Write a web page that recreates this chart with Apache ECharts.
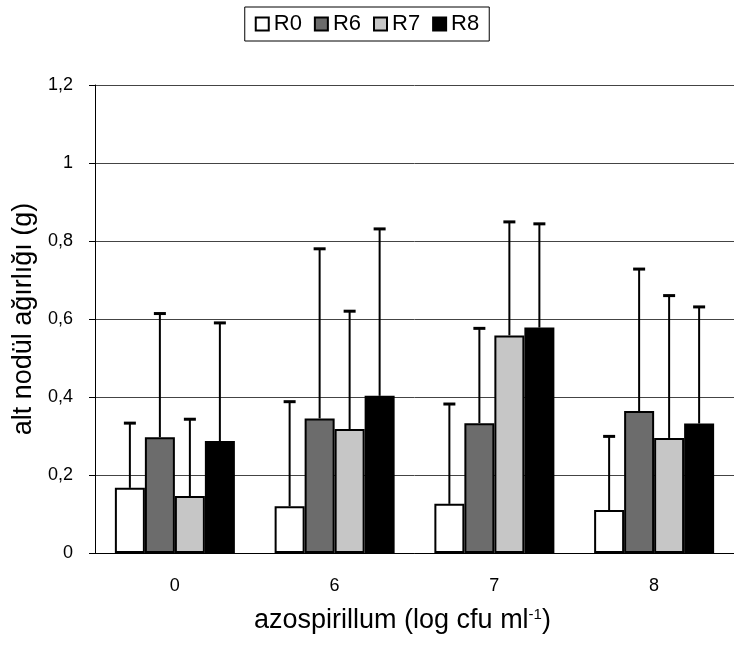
<!DOCTYPE html>
<html>
<head>
<meta charset="utf-8">
<script src="https://cdn.jsdelivr.net/npm/echarts@6/dist/echarts.min.js"></script>
<style>html,body{margin:0;padding:0;background:#fff}#c{width:734px;height:649px}</style>
</head>
<body>
<div id="c"></div>
<script>
const categories = ['0', '6', '7', '8'];
const seriesNames = ['R0', 'R6', 'R7', 'R8'];
const R0 = [0.167, 0.120, 0.126, 0.110];
const R6 = [0.297, 0.345, 0.333, 0.364];
const R7 = [0.146, 0.318, 0.558, 0.295];
const R8 = [0.287, 0.403, 0.578, 0.332];
// upper ends of the error bars
const R0Upper = [0.333, 0.388, 0.382, 0.299];
const R6Upper = [0.614, 0.780, 0.576, 0.728];
const R7Upper = [0.343, 0.620, 0.849, 0.660];
const R8Upper = [0.590, 0.831, 0.844, 0.631];
const yTicks = ['0', '0,2', '0,4', '0,6', '0,8', '1', '1,2'];

const means = [R0, R6, R7, R8];
const uppers = [R0Upper, R6Upper, R7Upper, R8Upper];
const fills = ['#ffffff', '#6c6c6c', '#c6c6c6', '#000000'];
const BAR_W = 30;
const FONT = 'Liberation Sans, Arial, sans-serif';

const chart = echarts.init(document.getElementById('c'));
const series = [];
seriesNames.forEach((name, i) => {
  series.push({
    name: name,
    type: 'bar',
    data: means[i],
    barWidth: BAR_W,
    barGap: '0%',
    itemStyle: { color: fills[i], borderColor: '#000', borderWidth: 2 },
    z: 2
  });
});
seriesNames.forEach((name, i) => {
  series.push({
    type: 'custom',
    name: name + '_err',
    data: categories.map((c, k) => [k, means[i][k], uppers[i][k]]),
    z: 3,
    renderItem: function (params, api) {
      const base = api.coord([api.value(0), api.value(1)]);
      const top = api.coord([api.value(0), api.value(2)]);
      const x = base[0] + (i - 1.5) * BAR_W;
      return {
        type: 'group',
        children: [
          { type: 'line', shape: { x1: x, y1: base[1], x2: x, y2: top[1] },
            style: { stroke: '#000', lineWidth: 2 } },
          { type: 'line', shape: { x1: x - 6, y1: top[1], x2: x + 6, y2: top[1] },
            style: { stroke: '#000', lineWidth: 3 } }
        ]
      };
    }
  });
});

chart.setOption({
  animation: false,
  backgroundColor: '#fff',
  textStyle: { fontFamily: FONT, color: '#000' },
  legend: {
    data: seriesNames,
    top: 7,
    left: 'center',
    icon: 'rect',
    itemWidth: 13,
    itemHeight: 13,
    itemGap: 12,
    padding: [6, 10, 6, 10],
    borderColor: '#000',
    borderWidth: 1,
    textStyle: { fontSize: 22, color: '#000', fontFamily: FONT }
  },
  grid: { left: 95, top: 85, width: 648, height: 468, containLabel: false },
  xAxis: {
    type: 'category',
    data: categories,
    axisLine: { lineStyle: { color: '#000', width: 1 } },
    axisTick: { show: false },
    axisLabel: { fontSize: 18, color: '#000', margin: 24, fontFamily: FONT },
    name: '{a|azospirillum (log cfu ml}{s|-1}{a|)}',
    nameLocation: 'middle',
    nameGap: 54,
    nameTextStyle: {
      padding: [0, 24, 0, 0],
      rich: {
        a: { fontSize: 27, color: '#000', fontFamily: FONT },
        s: { fontSize: 15, color: '#000', fontFamily: FONT, verticalAlign: 'top', padding: [0, 0, 12, 0] }
      }
    }
  },
  yAxis: {
    type: 'value',
    min: 0,
    max: 1.2,
    interval: 0.2,
    axisLine: { show: true, lineStyle: { color: '#000', width: 1 } },
    axisTick: { show: true, length: 6, lineStyle: { color: '#000' } },
    axisLabel: {
      fontSize: 18, color: '#000', margin: 22, fontFamily: FONT,
      formatter: function (v) { return yTicks[Math.round(v / 0.2)]; }
    },
    splitLine: { show: true, lineStyle: { color: '#444', width: 1 } },
    name: 'alt nodül ağırlığı (g)',
    nameLocation: 'middle',
    nameRotate: 90,
    nameGap: 52,
    nameTextStyle: { fontSize: 27, color: '#000', fontFamily: FONT }
  },
  series: series
});
</script>
</body>
</html>
